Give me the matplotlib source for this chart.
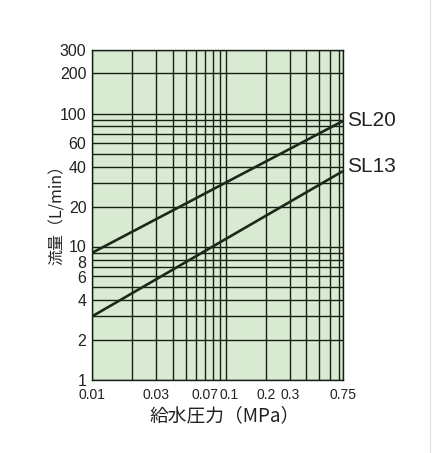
import matplotlib
matplotlib.use("Agg")
import matplotlib.pyplot as plt
from matplotlib.ticker import FixedLocator, LogLocator, NullFormatter, FixedFormatter
from matplotlib.lines import Line2D
from matplotlib.transforms import ScaledTranslation

# Data
pressure = [0.01, 0.75]            # MPa
flow_sl20 = [9.0, 88.0]            # L/min
flow_sl13 = [3.0, 37.0]            # L/min
series_names = ["SL20", "SL13"]

x_tick_vals = [0.01, 0.03, 0.07, 0.1, 0.2, 0.3, 0.75]
x_tick_labels = ["0.01", "0.03", "0.07", "0.1", "0.2", "0.3", "0.75"]
y_tick_vals = [1, 2, 4, 6, 8, 10, 20, 40, 60, 100, 200, 300]
y_tick_labels = ["1", "2", "4", "6", "8", "10", "20", "40", "60", "100", "200", "300"]

plt.rcParams['font.family'] = ['Liberation Sans', 'DejaVu Sans']

W, H = 432, 453
fig = plt.figure(figsize=(W / 100, H / 100), dpi=100)
fig.patch.set_facecolor("white")
ax = fig.add_axes([92 / W, 1 - 380 / H, (343 - 92) / W, (380 - 50) / H])

bg = "#d9ead3"
gridc = "#142014"
ax.set_facecolor(bg)
ax.set_xscale("log")
ax.set_yscale("log")
ax.set_xlim(0.01, 0.75)
ax.set_ylim(1, 300)

# Grid at every log subdivision
ax.xaxis.set_minor_locator(LogLocator(base=10, subs=range(1, 10), numticks=50))
ax.yaxis.set_minor_locator(LogLocator(base=10, subs=range(1, 10), numticks=50))
ax.xaxis.set_minor_formatter(NullFormatter())
ax.yaxis.set_minor_formatter(NullFormatter())
ax.grid(True, which="both", color=gridc, linewidth=1.0)
ax.set_axisbelow(True)

ax.xaxis.set_major_locator(FixedLocator(x_tick_vals))
ax.xaxis.set_major_formatter(FixedFormatter(x_tick_labels))
ax.yaxis.set_major_locator(FixedLocator(y_tick_vals))
ax.yaxis.set_major_formatter(FixedFormatter(y_tick_labels))
ax.tick_params(which="both", length=0)
ax.tick_params(axis="y", pad=4, labelsize=11.5, labelcolor="#222222")
ax.tick_params(axis="x", pad=6, labelsize=10, labelcolor="#222222")

# small nudges so the crowded labels don't collide (pixels)
fig.canvas.draw()
x_nudges = {"0.07": -0.5, "0.1": 3.5}
y_nudges = {"10": 1.0, "8": -2.0, "6": -1.0}
for lab in ax.get_xticklabels():
    dx = x_nudges.get(lab.get_text(), 0)
    if dx:
        lab.set_transform(lab.get_transform() + ScaledTranslation(dx / 100, 0, fig.dpi_scale_trans))
for lab in ax.get_yticklabels():
    dy = y_nudges.get(lab.get_text(), 0)
    if dy:
        lab.set_transform(lab.get_transform() + ScaledTranslation(0, dy / 100, fig.dpi_scale_trans))

for s in ax.spines.values():
    s.set_color(gridc)
    s.set_linewidth(1.0)

linec = "#1a2a1a"
ax.plot(pressure, flow_sl20, color=linec, linewidth=1.9, solid_capstyle="butt")
ax.plot(pressure, flow_sl13, color=linec, linewidth=1.9, solid_capstyle="butt")

ax.annotate(series_names[0], xy=(pressure[-1], flow_sl20[-1]), xytext=(3, 0),
            textcoords="offset points", va="center", ha="left",
            fontsize=15, color="#222222", annotation_clip=False)
ax.annotate(series_names[1], xy=(pressure[-1], flow_sl13[-1]), xytext=(3, 3),
            textcoords="offset points", va="center", ha="left",
            fontsize=15, color="#222222", annotation_clip=False)

cjk = ["Noto Sans CJK JP", "DejaVu Sans"]
fig.text(225 / W, 1 - 421 / H, "給水圧力（MPa）", family=cjk, fontsize=13.5,
         ha="center", va="baseline", color="#222222")
fig.text(57 / W, 1 - 211 / H, "流量（L/min）", family=cjk, fontsize=11.5,
         ha="center", va="center", rotation=90, color="#222222")

# faint border line at right of image
fig.add_artist(Line2D([430 / W, 430 / W], [0, 1], color="#e6e6e6", linewidth=1.0))

fig.savefig("out.png", dpi=100, facecolor="white")
